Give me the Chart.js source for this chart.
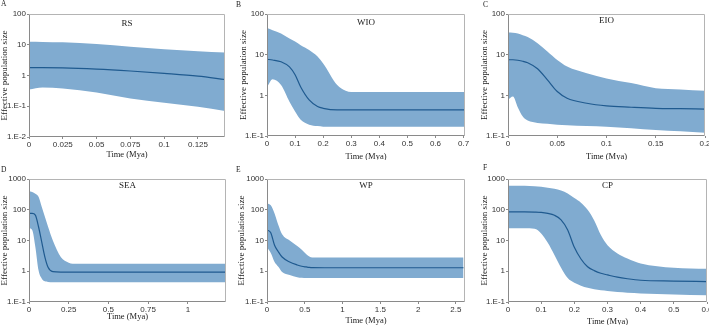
<!DOCTYPE html>
<html>
<head>
<meta charset="utf-8">
<script src="https://cdn.jsdelivr.net/npm/chart.js@4.4.1/dist/chart.umd.min.js"></script>
<style>
  html, body { margin: 0; padding: 0; background: #fff; }
  body { width: 709px; height: 325px; position: relative; overflow: hidden; }
  canvas { position: absolute; }
</style>
</head>
<body>
<canvas id="pA"></canvas>
<canvas id="pB"></canvas>
<canvas id="pC"></canvas>
<canvas id="pD"></canvas>
<canvas id="pE"></canvas>
<canvas id="pF"></canvas>
<script>
// A - RS
const tA = [0, 0.01, 0.025, 0.05, 0.075, 0.1, 0.125, 0.145]
const upA = [12.6, 12.4, 12, 10.5, 8.6, 7.2, 6.2, 5.6]
const medA = [1.8, 1.8, 1.78, 1.62, 1.4, 1.17, 0.95, 0.74]
const loA = [0.35, 0.41, 0.38, 0.28, 0.18, 0.13, 0.096, 0.07]

// B - WIO
const tB = [0, 0.02, 0.05, 0.08, 0.1, 0.12, 0.15, 0.18, 0.2, 0.25, 0.28, 0.3, 0.4, 0.5, 0.6, 0.705]
const upB = [45, 40, 33, 25, 21, 17, 13, 9, 6.1, 1.8, 1.3, 1.2, 1.2, 1.2, 1.2, 1.2]
const medB = [7.7, 7.4, 6.7, 5, 3.2, 1.6, 0.77, 0.53, 0.48, 0.44, 0.44, 0.44, 0.44, 0.44, 0.44, 0.44]
const loB = [1.6, 2.5, 1.8, 0.7, 0.4, 0.25, 0.19, 0.175, 0.17, 0.17, 0.17, 0.17, 0.17, 0.17, 0.17, 0.17]

// C - EIO
const tC = [0, 0.005, 0.01, 0.015, 0.02, 0.03, 0.04, 0.05, 0.06, 0.08, 0.1, 0.125, 0.15, 0.175, 0.2]
const upC = [35, 34.5, 33, 30, 27, 19, 12, 7.4, 5.1, 3.5, 2.6, 2.0, 1.5, 1.4, 1.3]
const medC = [7.5, 7.5, 7.3, 6.9, 6.3, 4.5, 2.4, 1.24, 0.85, 0.64, 0.55, 0.51, 0.48, 0.47, 0.46]
const loC = [0.78, 0.93, 0.5, 0.3, 0.24, 0.21, 0.2, 0.19, 0.185, 0.175, 0.17, 0.155, 0.14, 0.13, 0.12]

// D - SEA
const tD = [0, 0.02, 0.04, 0.06, 0.08, 0.1, 0.12, 0.15, 0.2, 0.25, 0.3, 0.5, 0.75, 1, 1.24]
const upD = [390, 380, 330, 265, 125, 59, 28, 10, 2.9, 1.9, 1.75, 1.75, 1.75, 1.75, 1.75]
const medD = [76, 76, 67, 28, 9, 2.9, 1.35, 0.97, 0.94, 0.94, 0.94, 0.94, 0.94, 0.94, 0.94]
const loD = [25, 22, 6.2, 1.07, 0.58, 0.47, 0.45, 0.44, 0.44, 0.44, 0.44, 0.44, 0.44, 0.44, 0.44]

// E - WP
const tE = [0, 0.05, 0.1, 0.15, 0.2, 0.3, 0.4, 0.46, 0.52, 0.56, 0.6, 1, 1.5, 2, 2.6]
const upE = [160, 140, 76, 32, 16, 10, 6.6, 5, 3.6, 3, 2.8, 2.8, 2.8, 2.8, 2.8]
const medE = [22, 18, 7, 4.3, 2.9, 2, 1.6, 1.45, 1.38, 1.34, 1.32, 1.3, 1.3, 1.3, 1.3]
const loE = [6, 3.9, 2, 1.4, 0.95, 0.75, 0.64, 0.61, 0.6, 0.6, 0.6, 0.6, 0.6, 0.6, 0.6]

// F - CP
const tF = [0, 0.05, 0.08, 0.1, 0.12, 0.14, 0.16, 0.18, 0.2, 0.22, 0.24, 0.26, 0.28, 0.3, 0.33, 0.36, 0.4, 0.5, 0.6]
const upF = [600, 600, 580, 560, 520, 480, 420, 340, 240, 170, 100, 45, 15, 7, 3.8, 2.6, 1.8, 1.3, 1.2]
const medF = [85, 85, 84, 82, 76, 66, 47, 22, 6, 2.5, 1.4, 1.05, 0.86, 0.76, 0.64, 0.57, 0.51, 0.48, 0.46]
const loF = [25, 25, 24, 17, 8.5, 3.4, 1.3, 0.6, 0.42, 0.34, 0.29, 0.26, 0.24, 0.23, 0.21, 0.2, 0.19, 0.175, 0.165]

// axis ticks
const xTicksA = [0, 0.025, 0.05, 0.075, 0.1, 0.125]
const xTicksB = [0, 0.1, 0.2, 0.3, 0.4, 0.5, 0.6, 0.7]
const xTicksC = [0, 0.05, 0.1, 0.15, 0.2]
const xTicksD = [0, 0.25, 0.5, 0.75, 1]
const xTicksE = [0, 0.5, 1, 1.5, 2, 2.5]
const xTicksF = [0, 0.1, 0.2, 0.3, 0.4, 0.5, 0.6]

const yTicks2 = [0.01, 0.1, 1, 10, 100]
const yLabels2 = ['1.E-2', '1.E-1', '1', '10', '100']
const yTicks3 = [0.1, 1, 10, 100]
const yLabels3 = ['1.E-1', '1', '10', '100']
const yTicks4 = [0.1, 1, 10, 100, 1000]
const yLabels4 = ['1.E-1', '1', '10', '100', '1000']

const BAND = '#80abd0'
const LINE = '#1f5a8f'
const SERIF = '"Liberation Serif", "Times New Roman", serif'

Chart.defaults.font.family = '"Liberation Sans", Arial, sans-serif'
Chart.defaults.color = '#333'

const panels = [
  {id: 'pA', letter: 'A', name: 'RS', t: tA, up: upA, med: medA, lo: loA,
    xTicks: xTicksA, xMax: 0.145, yTicks: yTicks2, yLabels: yLabels2,
    box: {x: 0, y: 0, w: 235, h: 160}, area: {l: 29, r: 225, t: 14, b: 137},
    letterPos: [1, 0], nameDy: 10, yTitlePad: -0.5, xTitlePad: 0},
  {id: 'pB', letter: 'B', name: 'WIO', t: tB, up: upB, med: medB, lo: loB,
    xTicks: xTicksB, xMax: 0.705, yTicks: yTicks3, yLabels: yLabels3,
    box: {x: 235, y: 0, w: 235, h: 160}, area: {l: 267, r: 465, t: 14, b: 136},
    letterPos: [1, 1], nameDy: 9, yTitlePad: 3, xTitlePad: -1.5},
  {id: 'pC', letter: 'C', name: 'EIO', t: tC, up: upC, med: medC, lo: loC,
    xTicks: xTicksC, xMax: 0.2, yTicks: yTicks3, yLabels: yLabels3,
    box: {x: 470, y: 0, w: 239, h: 160}, area: {l: 508, r: 705, t: 14, b: 136},
    letterPos: [13, 1], nameDy: 7, yTitlePad: 9.5, xTitlePad: -1.5},
  {id: 'pD', letter: 'D', name: 'SEA', t: tD, up: upD, med: medD, lo: loD,
    xTicks: xTicksD, xMax: 1.24, yTicks: yTicks4, yLabels: yLabels4,
    box: {x: 0, y: 160, w: 235, h: 165}, area: {l: 29, r: 226, t: 179, b: 302},
    letterPos: [1, 6], nameDy: 7, yTitlePad: -0.5, xTitlePad: 3},
  {id: 'pE', letter: 'E', name: 'WP', t: tE, up: upE, med: medE, lo: loE,
    xTicks: xTicksE, xMax: 2.62, yTicks: yTicks4, yLabels: yLabels4,
    box: {x: 235, y: 160, w: 235, h: 165}, area: {l: 267, r: 465, t: 179, b: 302},
    letterPos: [1, 6], nameDy: 7, yTitlePad: 1.5, xTitlePad: -0.5},
  {id: 'pF', letter: 'F', name: 'CP', t: tF, up: upF, med: medF, lo: loF,
    xTicks: xTicksF, xMax: 0.6, yTicks: yTicks4, yLabels: yLabels4,
    box: {x: 470, y: 160, w: 239, h: 165}, area: {l: 508, r: 707, t: 179, b: 302},
    letterPos: [13, 4], nameDy: 7, yTitlePad: 9.5, xTitlePad: -1.5}
]

// frame round the plot, panel letter and population name
const decorPlugin = {
  id: 'decor',
  afterDatasetsDraw(chart, args, opts) {
    const {ctx, chartArea: a} = chart
    ctx.save()
    ctx.lineWidth = 1
    ctx.strokeStyle = '#b4b4b4'
    ctx.beginPath()
    ctx.moveTo(a.left + 0.5, a.top + 0.5)
    ctx.lineTo(a.right - 0.5, a.top + 0.5)
    ctx.lineTo(a.right - 0.5, a.bottom - 0.5)
    ctx.stroke()
    ctx.strokeStyle = '#8a8a8a'
    ctx.beginPath()
    ctx.moveTo(a.left + 0.5, a.top + 0.5)
    ctx.lineTo(a.left + 0.5, a.bottom - 0.5)
    ctx.lineTo(a.right - 0.5, a.bottom - 0.5)
    ctx.stroke()

    ctx.fillStyle = '#222'
    ctx.font = '9px ' + SERIF
    ctx.textAlign = 'center'
    ctx.textBaseline = 'middle'
    ctx.fillText(opts.name, (a.left + a.right) / 2, a.top + opts.nameDy)

    ctx.font = '7.5px ' + SERIF
    ctx.textAlign = 'left'
    ctx.textBaseline = 'top'
    ctx.fillText(opts.letter, opts.letterPos[0], opts.letterPos[1])
    ctx.restore()
  }
}

function makePanel(p) {
  const el = document.getElementById(p.id)
  const b = p.box
  el.width = b.w
  el.height = b.h
  el.style.left = b.x + 'px'
  el.style.top = b.y + 'px'

  const yW = p.area.l - b.x
  const padR = b.x + b.w - p.area.r
  const padT = p.area.t - b.y
  const xH = b.y + b.h - p.area.b
  const pts = arr => p.t.map((t, i) => ({x: t, y: arr[i]}))

  // datasets are painted last-to-first, so the median goes first to sit on top of the band
  return new Chart(el, {
    type: 'line',
    data: {
      datasets: [
        {data: pts(p.med), fill: false, borderColor: LINE, borderWidth: 1.2, pointRadius: 0},
        {data: pts(p.up), fill: '+1', backgroundColor: BAND, borderColor: 'transparent', borderWidth: 0, pointRadius: 0},
        {data: pts(p.lo), fill: false, borderColor: 'transparent', borderWidth: 0, pointRadius: 0}
      ]
    },
    options: {
      responsive: false,
      animation: false,
      devicePixelRatio: 1,
      layout: {padding: {left: 0, right: padR, top: padT, bottom: 0}},
      elements: {line: {cubicInterpolationMode: 'monotone'}},
      plugins: {
        legend: {display: false},
        tooltip: {enabled: false},
        decor: {name: p.name, letter: p.letter, letterPos: p.letterPos, nameDy: p.nameDy}
      },
      scales: {
        x: {
          type: 'linear',
          min: 0,
          max: p.xMax,
          border: {display: false},
          grid: {display: true, drawOnChartArea: false, drawTicks: true, tickLength: 2, color: '#8a8a8a'},
          ticks: {
            font: {size: 8},
            padding: 1,
            maxRotation: 0,
            autoSkip: false,
            callback: (v, i) => String(p.xTicks[i])
          },
          afterBuildTicks: s => { s.ticks = p.xTicks.map(v => ({value: v})) },
          afterFit: s => { s.height = xH; s.paddingLeft = 0; s.paddingRight = 0 },
          title: {
            display: true,
            text: 'Time (Mya)',
            color: '#222',
            font: {family: SERIF, size: 8.5},
            padding: {top: 0, bottom: p.xTitlePad}
          }
        },
        y: {
          type: 'logarithmic',
          min: p.yTicks[0],
          max: p.yTicks[p.yTicks.length - 1],
          border: {display: false},
          grid: {display: true, drawOnChartArea: false, drawTicks: true, tickLength: 2, color: '#8a8a8a'},
          ticks: {
            font: {size: 8},
            padding: 1,
            autoSkip: false,
            callback: (v, i) => p.yLabels[i]
          },
          afterBuildTicks: s => { s.ticks = p.yTicks.map(v => ({value: v})) },
          afterFit: s => { s.width = yW; s.paddingTop = 0; s.paddingBottom = 0 },
          title: {
            display: true,
            text: 'Effective population size',
            color: '#222',
            font: {family: SERIF, size: 9},
            padding: {top: p.yTitlePad, bottom: 0}
          }
        }
      }
    },
    plugins: [decorPlugin]
  })
}

panels.forEach(makePanel)
</script>
</body>
</html>
